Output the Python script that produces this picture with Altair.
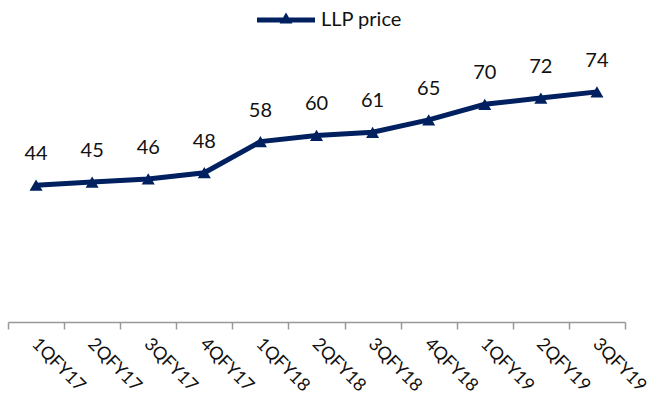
import altair as alt
import pandas as pd

quarters = ["1QFY17", "2QFY17", "3QFY17", "4QFY17", "1QFY18", "2QFY18",
            "3QFY18", "4QFY18", "1QFY19", "2QFY19", "3QFY19"]
llp_price = [44, 45, 46, 48, 58, 60, 61, 65, 70, 72, 74]
series_name = "LLP price"

df = pd.DataFrame({"quarter": quarters, "value": llp_price, "series": series_name})

NAVY = "#002060"
FONT = "Lato"

legend_path = ("M-1,-0.09 L1,-0.09 L1,0.09 L-1,0.09 Z "
               "M-0.22,0.12 L0,-0.26 L0.22,0.12 Z")

x_enc = alt.X("quarter:N", sort=quarters, bandPosition=0.5,
              scale=alt.Scale(type="band", paddingInner=0, paddingOuter=0),
              axis=alt.Axis(title=None, labelAngle=45, labelAlign="left",
                            labelBaseline="middle", labelPadding=12, labelOffset=-2,
                            labelFont=FONT, labelFontSize=18, labelColor="#111111",
                            tickBand="extent", tickSize=7, tickColor="#999999",
                            domainColor="#999999", domainWidth=1.5, tickWidth=1.5,
                            grid=False))
y_enc = alt.Y("value:Q", scale=alt.Scale(domain=[0, 100], nice=False, zero=True),
              axis=None)

color_enc = alt.Color("series:N", scale=alt.Scale(domain=[series_name], range=[NAVY]),
                      legend=alt.Legend(title=None, orient="none", legendX=249, legendY=-20,
                                        symbolType=legend_path, symbolSize=3364,
                                        symbolFillColor=NAVY, symbolStrokeColor=NAVY,
                                        symbolStrokeWidth=0, labelFont=FONT,
                                        labelFontSize=20, labelColor="#111111",
                                        labelOffset=6))

base = alt.Chart(df)

line = base.mark_line(strokeWidth=5, color=NAVY).encode(x=x_enc, y=y_enc, color=color_enc)
points = base.mark_point(shape="triangle-up", filled=True, size=170, opacity=1, color=NAVY).encode(
    x=x_enc, y=y_enc)
labels = base.mark_text(dy=-31, font=FONT, fontSize=20, color="#111111").encode(
    x=x_enc, y=y_enc, text="value:Q")

chart = alt.layer(line, points, labels).properties(
    width=617, height=311,
    background="white",
    autosize=alt.AutoSizeParams(type="none"),
    padding={"left": 8, "top": 11, "right": 28, "bottom": 76},
).configure_view(stroke="transparent", strokeWidth=0)

chart.save("out.html", embed_options={"renderer": "svg", "actions": False})
